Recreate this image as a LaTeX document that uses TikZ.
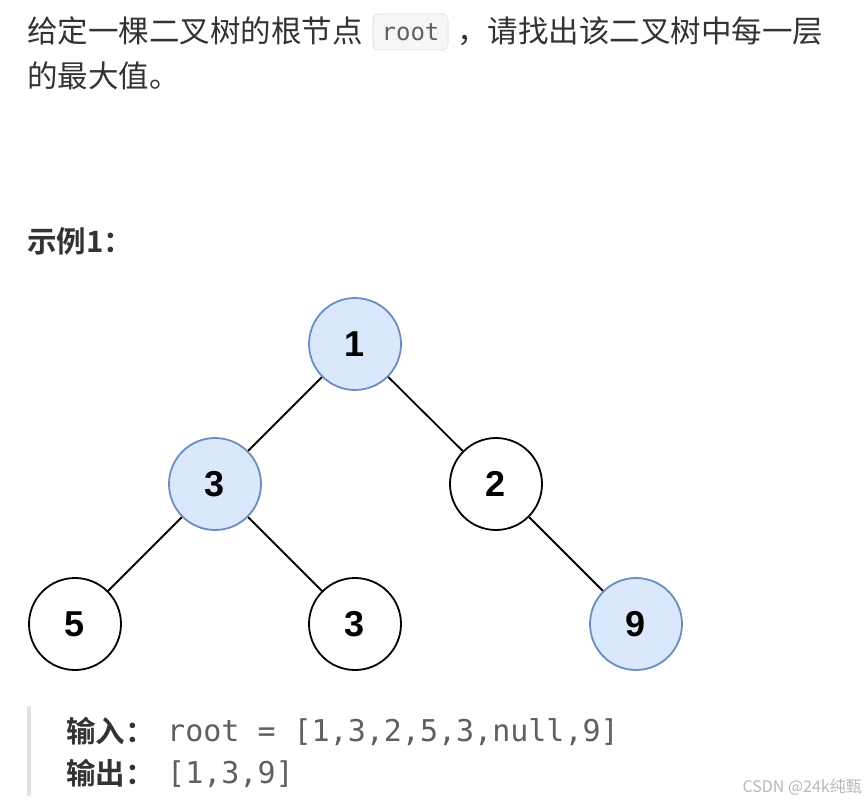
\documentclass[tikz,border=0pt]{standalone}
\usepackage{fontspec}
\setmainfont{Liberation Sans}
\newfontfamily\cjk{Noto Sans CJK SC}
\newfontfamily\cjkb{Noto Sans CJK SC Bold}
\newfontfamily\codefont{DejaVu Sans Mono}
\newfontfamily\numfont{Liberation Sans}
\definecolor{txt}{HTML}{333333}
\definecolor{codegray}{HTML}{5F5F5F}
\definecolor{codebg}{HTML}{F6F6F6}
\definecolor{codeborder}{HTML}{E6E6E6}
\definecolor{hlfill}{HTML}{DAE8FC}
\definecolor{hlborder}{HTML}{6C8EBF}
\definecolor{barcol}{HTML}{E3E3E3}
\definecolor{wm}{HTML}{B8B8B8}
\begin{document}
\begin{tikzpicture}[x=1pt,y=-1pt,
  treenode/.style={circle,draw=black,fill=white,line width=1.8pt,minimum size=92pt,inner sep=0pt,
    font=\numfont\fontsize{36}{36}\selectfont\bfseries},
  hl/.style={treenode,draw=hlborder,fill=hlfill},
  edge/.style={line width=1.8pt,black},
  para/.style={anchor=base west,inner sep=0pt,text=txt,font=\cjk\fontsize{30.5}{30.5}\selectfont},
  bpara/.style={anchor=base west,inner sep=0pt,text=txt,font=\cjkb\fontsize{29.5}{29.5}\selectfont},
  code/.style={anchor=base west,inner sep=0pt,text=codegray,font=\codefont\fontsize{30}{30}\selectfont}
]
\useasboundingbox[fill=white] (0,0) rectangle (864,802);

% paragraph
\node[para] (t1) at (27,43) {给定一棵二叉树的根节点};
\node[draw=codeborder,fill=codebg,rounded corners=5pt,line width=1pt,minimum width=75pt,minimum height=36pt,inner sep=0pt,
  text=codegray,font=\codefont\fontsize{24}{24}\selectfont] (rootcode) at (410.5,32) {root};
\node[para] (t2) at (457,43) {，请找出该二叉树中每一层};
\node[para] (t3) at (27,88) {的最大值。};

% example title
\node[bpara] (ex) at (27,253) {示例1：};

% tree
\node[hl] (n1) at (355,344) {1};
\node[hl] (n3a) at (215,484) {3};
\node[treenode] (n2) at (496,484) {2};
\node[treenode] (n5) at (75,624) {5};
\node[treenode] (n3b) at (355,624) {3};
\node[hl] (n9) at (636,624) {9};
\draw[edge] (n1) -- (n3a);
\draw[edge] (n1) -- (n2);
\draw[edge] (n3a) -- (n5);
\draw[edge] (n3a) -- (n3b);
\draw[edge] (n2) -- (n9);

% output block
\fill[barcol] (27,706) rectangle (31,796);
\node[bpara] (inl) at (66,742) {输入：};
\node[code] (inv) at (167,741) {root = [1,3,2,5,3,null,9]};
\node[bpara] (outl) at (66,784) {输出：};
\node[code] (outv) at (167,783) {[1,3,9]};

% watermark
\node[anchor=base east,inner sep=0pt,text=wm,font=\cjk\fontsize{16}{16}\selectfont] (wmk) at (862,792) {CSDN @24k纯甄};
\end{tikzpicture}
\end{document}
